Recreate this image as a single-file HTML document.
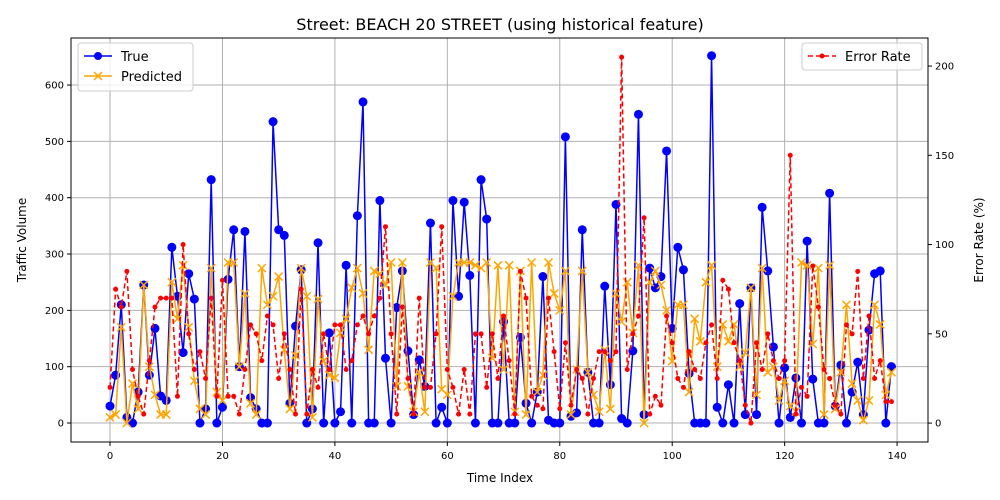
<!DOCTYPE html>
<html><head><meta charset="utf-8">
<style>
html,body{margin:0;padding:0;background:#fff;}
svg{display:block;font-family:"DejaVu Sans","Liberation Sans",sans-serif;}
</style></head>
<body>
<svg id="chart" width="1000" height="500" xmlns="http://www.w3.org/2000/svg">
<rect x="0" y="0" width="1000" height="500" fill="#fff"/>
<text x="500" y="30" text-anchor="middle" font-size="16" fill="#000">Street: BEACH 20 STREET (using historical feature)</text>
<g id="grid"></g>
<g id="marks"></g>
<rect x="71" y="38" width="857" height="404" fill="none" stroke="#000" stroke-width="1"/>
<g id="axes"></g>
<text x="500" y="482" text-anchor="middle" font-size="12">Time Index</text>
<text transform="translate(26,240) rotate(-90)" text-anchor="middle" font-size="12">Traffic Volume</text>
<text transform="translate(983,240) rotate(-90)" text-anchor="middle" font-size="12">Error Rate (%)</text>
<g>
<rect x="78" y="43" width="115" height="48" rx="3" fill="#fff" fill-opacity="0.8" stroke="#ccc"/>
<g>
<line x1="84" y1="56" x2="112" y2="56" stroke="#0000ff" stroke-width="1.5"/><circle cx="98" cy="56" r="4" fill="#0000ff"/>
<text x="121" y="61" font-size="13">True</text></g>
<g>
<line x1="84" y1="76" x2="112" y2="76" stroke="#ffa500" stroke-width="1.5"/><path d="M94,72 L102,80 M94,80 L102,72" stroke="#ffa500" stroke-width="1.5"/>
<text x="121" y="81" font-size="13">Predicted</text></g>
</g>
<g>
<rect x="802" y="43" width="120" height="27" rx="3" fill="#fff" fill-opacity="0.8" stroke="#ccc"/>
<g>
<line x1="808" y1="56" x2="836" y2="56" stroke="#ff0000" stroke-width="1.5" stroke-dasharray="5,3"/><circle cx="822" cy="56" r="2.5" fill="#ff0000"/>
<text x="845" y="61" font-size="13">Error Rate</text></g>
</g>
</svg>
<script>
const trueVals=[30,85,210,10,0,55,245,85,168,48,40,312,225,125,265,220,0,25,432,0,28,255,343,100,340,45,25,0,0,535,343,333,35,172,272,0,25,320,0,160,0,20,280,0,368,570,0,0,395,115,0,205,270,128,15,112,65,355,0,28,0,395,225,392,262,0,432,362,0,0,180,0,0,152,35,0,55,260,5,0,0,508,12,18,343,90,0,0,243,68,388,8,0,128,548,15,275,240,260,483,168,312,272,88,0,0,0,652,28,0,68,0,212,15,240,15,383,270,135,0,98,10,80,0,323,78,0,0,408,30,103,0,55,108,15,165,265,270,0,100];
const predVals=[10,15,170,0,70,25,245,100,50,15,15,250,185,280,170,75,25,15,275,55,40,285,285,100,230,35,15,275,210,225,260,130,25,120,275,225,10,220,110,85,80,160,185,240,275,230,130,270,265,245,285,65,285,65,20,90,20,285,275,60,50,225,285,285,285,280,275,285,115,280,95,280,20,270,15,285,55,85,285,230,200,270,15,95,270,90,50,20,130,25,230,180,250,160,280,0,250,270,245,200,110,210,210,55,185,145,250,280,100,175,145,175,100,125,240,50,275,90,100,40,75,30,20,285,280,140,275,15,280,25,90,210,70,40,5,40,210,175,50,90];
const errVals=[20,75,65,85,30,15,5,35,65,70,70,70,15,100,50,30,40,25,70,15,80,15,15,5,30,55,50,35,60,55,25,50,30,5,75,5,30,20,50,30,55,55,30,35,55,60,50,60,70,110,50,5,65,25,5,70,20,20,50,110,30,20,5,30,5,50,50,20,50,25,60,35,5,85,70,15,10,8,70,40,8,45,10,30,25,5,25,40,40,35,40,205,30,50,60,115,5,15,10,60,45,25,20,40,30,25,45,55,25,80,75,45,35,10,0,45,30,50,35,25,35,150,5,20,15,88,65,30,25,10,5,55,50,85,25,60,25,35,12,12];
const xTicks=[0,20,40,60,80,100,120,140];
const yTicks=[0,100,200,300,400,500,600];
const y2Ticks=[0,50,100,150,200];

const NS='http://www.w3.org/2000/svg';
const L=71,R=928,T=38,B=442;
const xMin=-6.94,xMax=145.5,yMin=-33.7,yMax=683.5,y2Min=-10.6,y2Max=215.7;
const sx=v=>L+(v-xMin)/(xMax-xMin)*(R-L);
const sy=v=>B-(v-yMin)/(yMax-yMin)*(B-T);
const sy2=v=>B-(v-y2Min)/(y2Max-y2Min)*(B-T);
function mk(tag,attrs,parent){const e=document.createElementNS(NS,tag);for(const k in attrs)e.setAttribute(k,attrs[k]);parent.appendChild(e);return e;}
const grid=document.getElementById('grid'),axes=document.getElementById('axes'),marks=document.getElementById('marks');
xTicks.forEach(t=>{const x=sx(t);
 const g=mk('line',{x1:x,x2:x,y1:T,y2:B,stroke:'#b0b0b0','stroke-width':1},grid);
 
 
 mk('line',{x1:x,x2:x,y1:B,y2:B+4,stroke:'#000'},axes);
 const tx=mk('text',{x:x,y:B+17,'text-anchor':'middle','font-size':10},axes);tx.textContent=t;
 
 });
yTicks.forEach(t=>{const y=sy(t);
 const g=mk('line',{x1:L,x2:R,y1:y,y2:y,stroke:'#b0b0b0','stroke-width':1},grid);
 
 
 mk('line',{x1:L-4,x2:L,y1:y,y2:y,stroke:'#000'},axes);
 const tx=mk('text',{x:L-7,y:y+3.5,'text-anchor':'end','font-size':10},axes);tx.textContent=t;
 
 });
y2Ticks.forEach(t=>{const y=sy2(t);
 mk('line',{x1:R,x2:R+4,y1:y,y2:y,stroke:'#000'},axes);
 const tx=mk('text',{x:R+7,y:y+3.5,'text-anchor':'start','font-size':10},axes);tx.textContent=t;
 
 });

// True series
const pT=trueVals.map((v,i)=>sx(i)+','+sy(v)).join(' ');
const lt=mk('polyline',{points:pT,fill:'none',stroke:'#0000ff','stroke-width':1.5},marks);


trueVals.forEach((v,i)=>{const c=mk('circle',{cx:sx(i),cy:sy(v),r:4.5,fill:'#0000ff'},marks);
 
 });
// Predicted series
const pP=predVals.map((v,i)=>sx(i)+','+sy(v)).join(' ');
const lp=mk('polyline',{points:pP,fill:'none',stroke:'#ffa500','stroke-width':1.5},marks);


predVals.forEach((v,i)=>{const x=sx(i),y=sy(v);
 const m=mk('path',{d:`M${x-4},${y-4}L${x+4},${y+4}M${x-4},${y+4}L${x+4},${y-4}`,stroke:'#ffa500','stroke-width':1.5},marks);
 
 });
// Error rate
const pE=errVals.map((v,i)=>sx(i)+','+sy2(v)).join(' ');
const le=mk('polyline',{points:pE,fill:'none',stroke:'#ff0000','stroke-width':1.5,'stroke-dasharray':'5,3'},marks);


errVals.forEach((v,i)=>{const c=mk('circle',{cx:sx(i),cy:sy2(v),r:2.5,fill:'#ff0000'},marks);
 
 });
</script>
</body></html>
